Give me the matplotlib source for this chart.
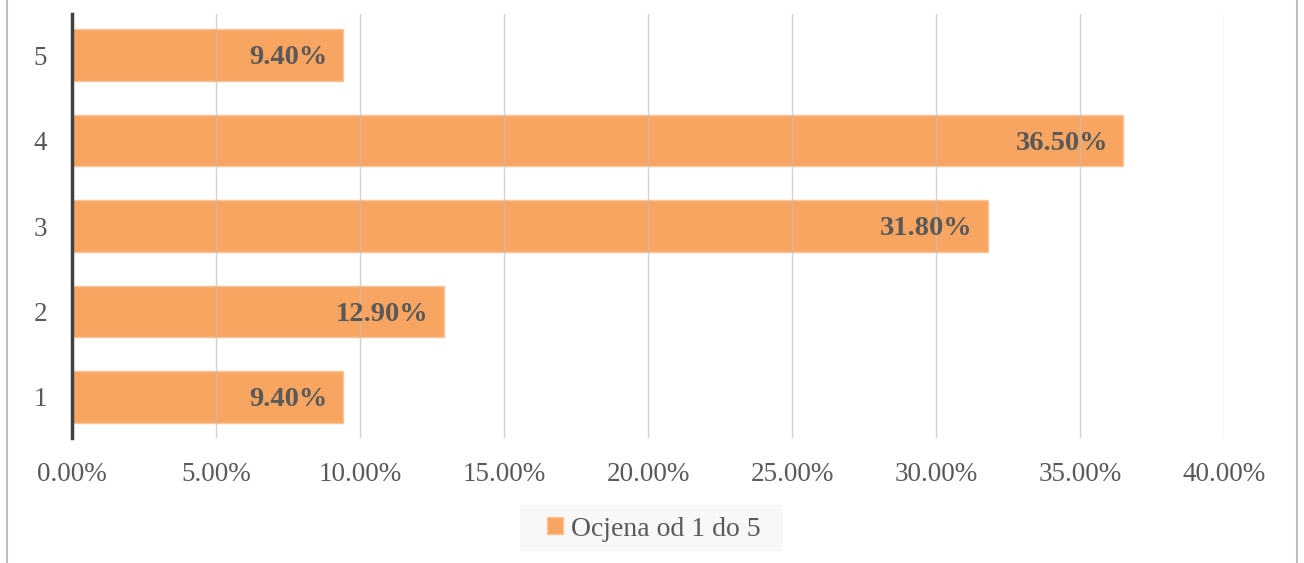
import matplotlib
matplotlib.use("Agg")
import matplotlib.pyplot as plt
from matplotlib.lines import Line2D
from matplotlib.patches import Patch, Rectangle

categories = ["1", "2", "3", "4", "5"]
values = [9.40, 12.90, 31.80, 36.50, 9.40]
xticks = [0, 5, 10, 15, 20, 25, 30, 35, 40]
series_name = "Ocjena od 1 do 5"

plt.rcParams['font.family'] = ['Liberation Serif', 'DejaVu Serif']
txt = '#595959'
bar_color = '#F7A561'

W, H = 1304, 563
fig = plt.figure(figsize=(W/100, H/100), dpi=100)
ax = fig.add_axes([72/W, 1-438/H, (1224-72)/W, (438-14)/H])

ypos = list(range(1, len(categories)+1))
ax.barh(ypos, values, height=0.6, color=bar_color, edgecolor='#F9C49A', linewidth=1, zorder=2)
ax.set_xlim(0, 40)
ax.set_ylim(0.52, 5.48)
ax.set_xticks(xticks)
ax.set_xticklabels([f"{v:.2f}%" for v in xticks])
ax.set_yticks(ypos)
ax.set_yticklabels(categories)
ax.tick_params(axis='both', length=0, labelsize=19.5, colors=txt)
ax.tick_params(axis='x', pad=17)
ax.tick_params(axis='y', pad=18)
ax.grid(axis='x', color='#BFBFBF', linewidth=1, alpha=0.7, zorder=3)
ax.set_axisbelow(False)
for s in ['top', 'right', 'bottom']:
    ax.spines[s].set_visible(False)
ax.spines['left'].set_color('#404040')
ax.spines['left'].set_linewidth(2.5)
ax.spines['left'].set_zorder(4)

for y, v in zip(ypos, values):
    ax.annotate(f"{v:.2f}%", xy=(v, y), xytext=(-11, -2), textcoords='offset points',
                ha='right', va='center', fontsize=20.5, fontweight='bold', color=txt, zorder=5)

fig.add_artist(Line2D([7/W, 7/W], [0, 1], color='#BFBFBF', linewidth=1.5))
fig.add_artist(Line2D([1297/W, 1297/W], [0, 1], color='#BFBFBF', linewidth=1.5))

fig.add_artist(Rectangle((520/W, 1-551/H), (783-520)/W, 46/H, facecolor='#F8F8F8',
                         edgecolor='none', transform=fig.transFigure, zorder=0))
leg = fig.legend(handles=[Patch(facecolor=bar_color, edgecolor='#F9C49A', label=series_name)],
                 loc='center', bbox_to_anchor=(654/W, 1-529/H), frameon=False,
                 fontsize=20, handlelength=0.55, handleheight=0.55, handletextpad=0.3,
                 borderpad=0.3, labelcolor=txt)

fig.savefig("out.png", dpi=100)
